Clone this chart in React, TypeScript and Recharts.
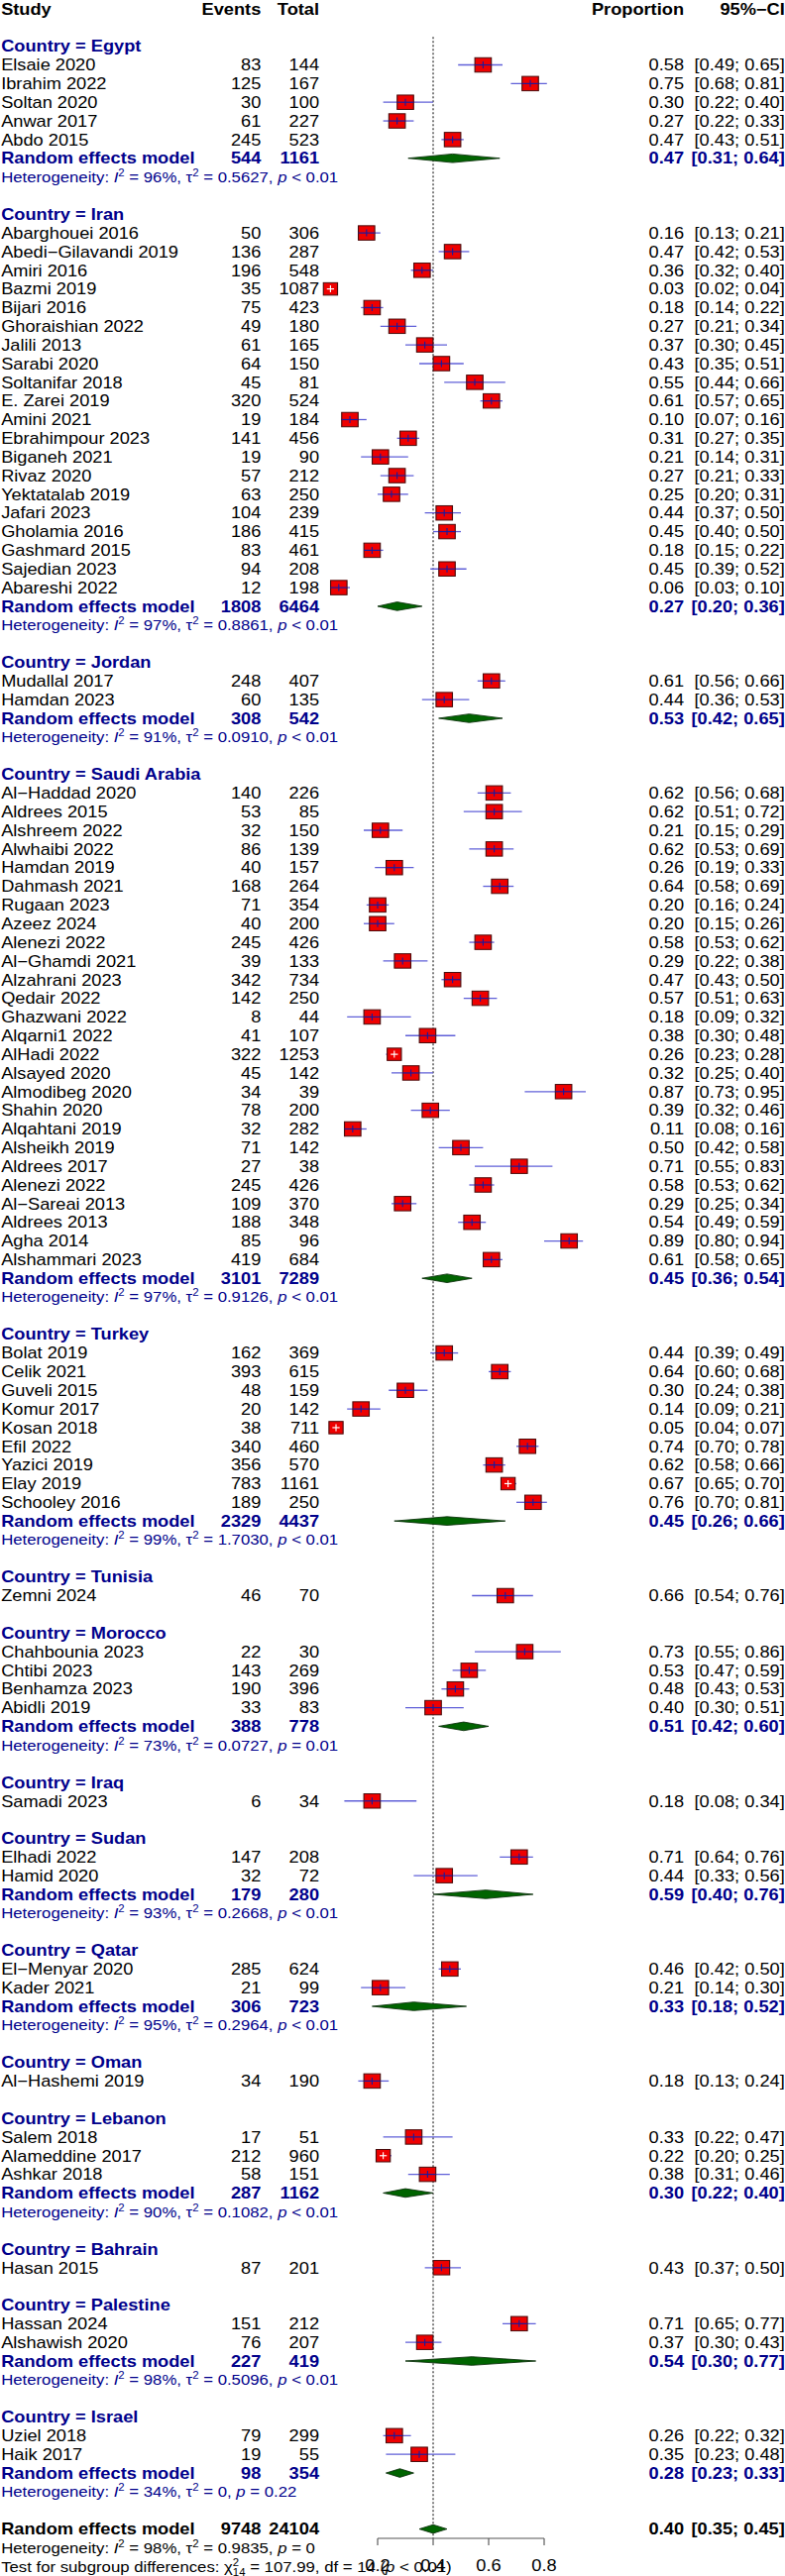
import React from 'react';
import { ScatterChart, Scatter, XAxis, YAxis, ErrorBar, ReferenceLine } from 'recharts';

// [study, events, total, proportion, lower, upper]
type Study = [string, number, number, number, number, number];

const egypt: Study[] = [
  ['Elsaie 2020', 83, 144, 0.58, 0.49, 0.65],
  ['Ibrahim 2022', 125, 167, 0.75, 0.68, 0.81],
  ['Soltan 2020', 30, 100, 0.3, 0.22, 0.4],
  ['Anwar 2017', 61, 227, 0.27, 0.22, 0.33],
  ['Abdo 2015', 245, 523, 0.47, 0.43, 0.51],
];
const iran: Study[] = [
  ['Abarghouei 2016', 50, 306, 0.16, 0.13, 0.21],
  ['Abedi\u2212Gilavandi 2019', 136, 287, 0.47, 0.42, 0.53],
  ['Amiri 2016', 196, 548, 0.36, 0.32, 0.4],
  ['Bazmi 2019', 35, 1087, 0.03, 0.02, 0.04],
  ['Bijari 2016', 75, 423, 0.18, 0.14, 0.22],
  ['Ghoraishian 2022', 49, 180, 0.27, 0.21, 0.34],
  ['Jalili 2013', 61, 165, 0.37, 0.3, 0.45],
  ['Sarabi 2020', 64, 150, 0.43, 0.35, 0.51],
  ['Soltanifar 2018', 45, 81, 0.55, 0.44, 0.66],
  ['E. Zarei 2019', 320, 524, 0.61, 0.57, 0.65],
  ['Amini 2021', 19, 184, 0.1, 0.07, 0.16],
  ['Ebrahimpour 2023', 141, 456, 0.31, 0.27, 0.35],
  ['Biganeh 2021', 19, 90, 0.21, 0.14, 0.31],
  ['Rivaz 2020', 57, 212, 0.27, 0.21, 0.33],
  ['Yektatalab 2019', 63, 250, 0.25, 0.2, 0.31],
  ['Jafari 2023', 104, 239, 0.44, 0.37, 0.5],
  ['Gholamia 2016', 186, 415, 0.45, 0.4, 0.5],
  ['Gashmard 2015', 83, 461, 0.18, 0.15, 0.22],
  ['Sajedian 2023', 94, 208, 0.45, 0.39, 0.52],
  ['Abareshi 2022', 12, 198, 0.06, 0.03, 0.1],
];
const jordan: Study[] = [
  ['Mudallal 2017', 248, 407, 0.61, 0.56, 0.66],
  ['Hamdan 2023', 60, 135, 0.44, 0.36, 0.53],
];
const saudi: Study[] = [
  ['Al\u2212Haddad 2020', 140, 226, 0.62, 0.56, 0.68],
  ['Aldrees 2015', 53, 85, 0.62, 0.51, 0.72],
  ['Alshreem 2022', 32, 150, 0.21, 0.15, 0.29],
  ['Alwhaibi 2022', 86, 139, 0.62, 0.53, 0.69],
  ['Hamdan 2019', 40, 157, 0.26, 0.19, 0.33],
  ['Dahmash 2021', 168, 264, 0.64, 0.58, 0.69],
  ['Rugaan 2023', 71, 354, 0.2, 0.16, 0.24],
  ['Azeez 2024', 40, 200, 0.2, 0.15, 0.26],
  ['Alenezi 2022', 245, 426, 0.58, 0.53, 0.62],
  ['Al\u2212Ghamdi 2021', 39, 133, 0.29, 0.22, 0.38],
  ['Alzahrani 2023', 342, 734, 0.47, 0.43, 0.5],
  ['Qedair 2022', 142, 250, 0.57, 0.51, 0.63],
  ['Ghazwani 2022', 8, 44, 0.18, 0.09, 0.32],
  ['Alqarni1 2022', 41, 107, 0.38, 0.3, 0.48],
  ['AlHadi 2022', 322, 1253, 0.26, 0.23, 0.28],
  ['Alsayed 2020', 45, 142, 0.32, 0.25, 0.4],
  ['Almodibeg 2020', 34, 39, 0.87, 0.73, 0.95],
  ['Shahin 2020', 78, 200, 0.39, 0.32, 0.46],
  ['Alqahtani 2019', 32, 282, 0.11, 0.08, 0.16],
  ['Alsheikh 2019', 71, 142, 0.5, 0.42, 0.58],
  ['Aldrees 2017', 27, 38, 0.71, 0.55, 0.83],
  ['Alenezi 2022', 245, 426, 0.58, 0.53, 0.62],
  ['Al\u2212Sareai 2013', 109, 370, 0.29, 0.25, 0.34],
  ['Aldrees 2013', 188, 348, 0.54, 0.49, 0.59],
  ['Agha 2014', 85, 96, 0.89, 0.8, 0.94],
  ['Alshammari 2023', 419, 684, 0.61, 0.58, 0.65],
];
const turkey: Study[] = [
  ['Bolat 2019', 162, 369, 0.44, 0.39, 0.49],
  ['Celik 2021', 393, 615, 0.64, 0.6, 0.68],
  ['Guveli 2015', 48, 159, 0.3, 0.24, 0.38],
  ['Komur 2017', 20, 142, 0.14, 0.09, 0.21],
  ['Kosan 2018', 38, 711, 0.05, 0.04, 0.07],
  ['Efil 2022', 340, 460, 0.74, 0.7, 0.78],
  ['Yazici 2019', 356, 570, 0.62, 0.58, 0.66],
  ['Elay 2019', 783, 1161, 0.67, 0.65, 0.7],
  ['Schooley 2016', 189, 250, 0.76, 0.7, 0.81],
];
const tunisia: Study[] = [['Zemni 2024', 46, 70, 0.66, 0.54, 0.76]];
const morocco: Study[] = [
  ['Chahbounia 2023', 22, 30, 0.73, 0.55, 0.86],
  ['Chtibi 2023', 143, 269, 0.53, 0.47, 0.59],
  ['Benhamza 2023', 190, 396, 0.48, 0.43, 0.53],
  ['Abidli 2019', 33, 83, 0.4, 0.3, 0.51],
];
const iraq: Study[] = [['Samadi 2023', 6, 34, 0.18, 0.08, 0.34]];
const sudan: Study[] = [
  ['Elhadi 2022', 147, 208, 0.71, 0.64, 0.76],
  ['Hamid 2020', 32, 72, 0.44, 0.33, 0.56],
];
const qatar: Study[] = [
  ['El\u2212Menyar 2020', 285, 624, 0.46, 0.42, 0.5],
  ['Kader 2021', 21, 99, 0.21, 0.14, 0.3],
];
const oman: Study[] = [['Al\u2212Hashemi 2019', 34, 190, 0.18, 0.13, 0.24]];
const lebanon: Study[] = [
  ['Salem 2018', 17, 51, 0.33, 0.22, 0.47],
  ['Alameddine 2017', 212, 960, 0.22, 0.2, 0.25],
  ['Ashkar 2018', 58, 151, 0.38, 0.31, 0.46],
];
const bahrain: Study[] = [['Hasan 2015', 87, 201, 0.43, 0.37, 0.5]];
const palestine: Study[] = [
  ['Hassan 2024', 151, 212, 0.71, 0.65, 0.77],
  ['Alshawish 2020', 76, 207, 0.37, 0.3, 0.43],
];
const israel: Study[] = [
  ['Uziel 2018', 79, 299, 0.26, 0.22, 0.32],
  ['Haik 2017', 19, 55, 0.35, 0.23, 0.48],
];

const countries = [
  'Egypt', 'Iran', 'Jordan', 'Saudi Arabia', 'Turkey', 'Tunisia', 'Morocco', 'Iraq',
  'Sudan', 'Qatar', 'Oman', 'Lebanon', 'Bahrain', 'Palestine', 'Israel',
];
const countryStudies = [
  egypt, iran, jordan, saudi, turkey, tunisia, morocco, iraq,
  sudan, qatar, oman, lebanon, bahrain, palestine, israel,
];

// random effects per subgroup: events, total, proportion, lower, upper
const pooled: ([number, number, number, number, number] | null)[] = [
  [544, 1161, 0.47, 0.31, 0.64],
  [1808, 6464, 0.27, 0.2, 0.36],
  [308, 542, 0.53, 0.42, 0.65],
  [3101, 7289, 0.45, 0.36, 0.54],
  [2329, 4437, 0.45, 0.26, 0.66],
  null,
  [388, 778, 0.51, 0.42, 0.6],
  null,
  [179, 280, 0.59, 0.4, 0.76],
  [306, 723, 0.33, 0.18, 0.52],
  null,
  [287, 1162, 0.3, 0.22, 0.4],
  null,
  [227, 419, 0.54, 0.3, 0.77],
  [98, 354, 0.28, 0.23, 0.33],
];

// I2, tau2, p
const heterogeneity: ([string, string, string] | null)[] = [
  ['96%', '0.5627', '< 0.01'],
  ['97%', '0.8861', '< 0.01'],
  ['91%', '0.0910', '< 0.01'],
  ['97%', '0.9126', '< 0.01'],
  ['99%', '1.7030', '< 0.01'],
  null,
  ['73%', '0.0727', '= 0.01'],
  null,
  ['93%', '0.2668', '< 0.01'],
  ['95%', '0.2964', '< 0.01'],
  null,
  ['90%', '0.1082', '< 0.01'],
  null,
  ['98%', '0.5096', '< 0.01'],
  ['34%', '0', '= 0.22'],
];

const overall: [number, number, number, number, number] = [9748, 24104, 0.4, 0.35, 0.45];
const overallHet: [string, string, string] = ['98%', '0.9835', '= 0'];
const subgroupTest = ['107.99', '14', '< 0.01'];
const xTicks = [0.2, 0.4, 0.6, 0.8];

const FONT = "'Liberation Sans', Arial, Helvetica, sans-serif";
const NAVY = '#00008B';
const STRETCH = 1.14;
const W = 695;
const H = 2600;

type Row = {
  r: number;
  kind: 'header' | 'title' | 'study' | 'pooled' | 'het' | 'overall' | 'overallHet' | 'test';
  label?: string;
  events?: number;
  total?: number;
  est?: number;
  lo?: number;
  hi?: number;
  het?: [string, string, string];
};

const rows: Row[] = [];
let line = 1;
rows.push({ r: line, kind: 'header' });
line += 2;
countries.forEach((c, i) => {
  rows.push({ r: line++, kind: 'title', label: `Country = ${c}` });
  countryStudies[i].forEach(([label, events, total, est, lo, hi]) => {
    rows.push({ r: line++, kind: 'study', label, events, total, est, lo, hi });
  });
  const p = pooled[i];
  const h = heterogeneity[i];
  if (p && h) {
    rows.push({ r: line++, kind: 'pooled', label: 'Random effects model', events: p[0], total: p[1], est: p[2], lo: p[3], hi: p[4] });
    rows.push({ r: line++, kind: 'het', het: h });
  }
  line++;
});
const overallRow = line;
rows.push({ r: line++, kind: 'overall', label: 'Random effects model', events: overall[0], total: overall[1], est: overall[2], lo: overall[3], hi: overall[4] });
rows.push({ r: line++, kind: 'overallHet', het: overallHet });
rows.push({ r: line++, kind: 'test' });

const rowByR = new Map(rows.map((row) => [row.r, row]));
const rowTicks = rows.map((row) => row.r);
const yBottom = overallRow + 0.5;

const studyPoints = rows
  .filter((row) => row.kind === 'study')
  .map((row) => ({
    x: row.est,
    y: row.r,
    err: [row.est! - row.lo!, row.hi! - row.est!],
    narrow: row.hi! - row.lo! <= 0.051,
  }));

const DIAMOND_HALF = 0.23;
const diamondPoints = rows
  .filter((row) => row.kind === 'pooled' || row.kind === 'overall')
  .flatMap((row) => [
    { x: row.lo, y: row.r },
    { x: row.est, y: row.r - DIAMOND_HALF },
    { x: row.hi, y: row.r },
    { x: row.est, y: row.r + DIAMOND_HALF },
  ]);

const fmt = (v: number) => v.toFixed(2);

const HetText = ({ y, het, color }: { y: number; het: [string, string, string]; color: string }) => (
  <text x={1} y={y} dy="0.36em" fontSize={14.7} fill={color} fontFamily={FONT} style={{ whiteSpace: 'pre' }}>
    <tspan>{'Heterogeneity: '}</tspan>
    <tspan fontStyle="italic">I</tspan>
    <tspan dy={-6} fontSize={10}>2</tspan>
    <tspan dy={6}>{` = ${het[0]}, \u03c4`}</tspan>
    <tspan dy={-6} fontSize={10}>2</tspan>
    <tspan dy={6}>{` = ${het[1]}, `}</tspan>
    <tspan fontStyle="italic">p</tspan>
    <tspan>{` ${het[2]}`}</tspan>
  </text>
);

const LeftTick = (props: any) => {
  const { y, payload } = props;
  const row = rowByR.get(payload.value);
  if (!row) return <g />;
  const base = { y, dy: '0.36em', fontFamily: FONT, fontSize: 16 };
  if (row.kind === 'header') {
    return (
      <g fontWeight="bold" fill="#000">
        <text {...base} x={1}>Study</text>
        <text {...base} x={231} textAnchor="end">Events</text>
        <text {...base} x={282.5} textAnchor="end">Total</text>
      </g>
    );
  }
  if (row.kind === 'title') {
    return <text {...base} x={1} fontWeight="bold" fill={NAVY}>{row.label}</text>;
  }
  if (row.kind === 'het') return <HetText y={y} het={row.het!} color={NAVY} />;
  if (row.kind === 'overallHet') return <HetText y={y} het={row.het!} color="#000" />;
  if (row.kind === 'test') {
    return (
      <text x={1} y={y} dy="0.36em" fontSize={14.7} fill="#000" fontFamily={FONT} style={{ whiteSpace: 'pre' }}>
        <tspan>{'Test for subgroup differences: \u03c7'}</tspan>
        <tspan dy={-6} fontSize={10}>2</tspan>
        <tspan dx={-5.6} dy={10} fontSize={10}>14</tspan>
        <tspan dy={-4}>{` = ${subgroupTest[0]}, df = ${subgroupTest[1]} (`}</tspan>
        <tspan fontStyle="italic">p</tspan>
        <tspan>{` ${subgroupTest[2]})`}</tspan>
      </text>
    );
  }
  const bold = row.kind !== 'study';
  const fill = row.kind === 'pooled' ? NAVY : '#000';
  return (
    <g fontWeight={bold ? 'bold' : 'normal'} fill={fill}>
      <text {...base} x={1}>{row.label}</text>
      <text {...base} x={231} textAnchor="end">{row.events}</text>
      <text {...base} x={282.5} textAnchor="end">{row.total}</text>
    </g>
  );
};

const RightTick = (props: any) => {
  const { y, payload } = props;
  const row = rowByR.get(payload.value);
  if (!row) return <g />;
  const base = { y, dy: '0.36em', fontFamily: FONT, fontSize: 16 };
  if (row.kind === 'header') {
    return (
      <g fontWeight="bold" fill="#000">
        <text {...base} x={605.3} textAnchor="end">Proportion</text>
        <text {...base} x={694.5} textAnchor="end">{'95%\u2212CI'}</text>
      </g>
    );
  }
  if (row.kind !== 'study' && row.kind !== 'pooled' && row.kind !== 'overall') return <g />;
  const bold = row.kind !== 'study';
  const fill = row.kind === 'pooled' ? NAVY : '#000';
  return (
    <g fontWeight={bold ? 'bold' : 'normal'} fill={fill}>
      <text {...base} x={605.3} textAnchor="end">{fmt(row.est!)}</text>
      <text {...base} x={694.5} textAnchor="end">{`[${fmt(row.lo!)}; ${fmt(row.hi!)}]`}</text>
    </g>
  );
};

const StudySquare = (props: any) => {
  const { cx, cy, payload } = props;
  const s = payload.narrow ? 12.5 : 14.5;
  const mark = payload.narrow ? '#ffffff' : '#1a1a9e';
  const arm = payload.narrow ? 3.2 : s / 2;
  return (
    <g>
      <rect x={cx - s / 2} y={cy - s / 2} width={s} height={s} fill="#ee0000" stroke="#4a0c0c" strokeWidth={1} />
      <line x1={cx - arm} x2={cx + arm} y1={cy} y2={cy} stroke={mark} strokeWidth={1.2} />
      <line x1={cx} x2={cx} y1={cy - 3.5} y2={cy + 3.5} stroke={mark} strokeWidth={1} />
    </g>
  );
};

const diamondLine = (props: any) => {
  const pts = props.points || [];
  const polys = [];
  for (let i = 0; i + 3 < pts.length; i += 4) {
    const d = pts.slice(i, i + 4).map((p: any) => `${p.x},${p.y}`).join(' ');
    polys.push(<polygon key={i} points={d} fill="#006400" stroke="#0b2e0b" strokeWidth={0.8} />);
  }
  return <g>{polys}</g>;
};

const App = () => (
  <div style={{ width: 792, height: H, overflow: 'hidden', background: '#fff' }}>
    <style>{'body{margin:0}'}</style>
    <div style={{ width: W, height: H, transform: `scale(${STRETCH}, 1)`, transformOrigin: '0 0' }}>
      <ScatterChart width={W} height={H} margin={{ top: 9, right: 0, bottom: 0, left: 0 }}>
        <XAxis
          type="number"
          dataKey="x"
          domain={[0, 1]}
          allowDataOverflow
          ticks={xTicks}
          interval={0}
          axisLine={false}
          tickLine={{ stroke: '#555' }}
          tickSize={7}
          tickMargin={15}
          height={38}
          tick={{ fontSize: 16, fill: '#000', fontFamily: FONT }}
          tickFormatter={(v: number) => v.toFixed(1)}
        />
        <YAxis
          yAxisId="left"
          type="number"
          dataKey="y"
          domain={[1, yBottom]}
          reversed
          allowDataOverflow
          ticks={rowTicks}
          interval={0}
          width={285.1}
          axisLine={false}
          tickLine={false}
          tick={LeftTick}
        />
        <YAxis
          yAxisId="right"
          orientation="right"
          type="number"
          dataKey="y"
          domain={[1, yBottom]}
          reversed
          allowDataOverflow
          ticks={rowTicks}
          interval={0}
          width={164.3}
          axisLine={false}
          tickLine={false}
          tick={RightTick}
        />
        <ReferenceLine
          yAxisId="left"
          segment={[{ x: overall[2], y: 2.5 }, { x: overall[2], y: yBottom }]}
          stroke="#222"
          strokeDasharray="2 2"
        />
        <ReferenceLine
          yAxisId="left"
          segment={[{ x: xTicks[0], y: yBottom }, { x: xTicks[xTicks.length - 1], y: yBottom }]}
          stroke="#555"
        />
        <Scatter yAxisId="left" data={studyPoints} shape={() => <g />} isAnimationActive={false}>
          <ErrorBar dataKey="err" direction="x" width={0} stroke="#6060d8" strokeWidth={1.3} />
        </Scatter>
        <Scatter yAxisId="left" data={studyPoints} shape={StudySquare} isAnimationActive={false} />
        <Scatter
          yAxisId="left"
          data={diamondPoints}
          shape={() => <g />}
          line={diamondLine}
          lineType="joint"
          isAnimationActive={false}
        />
      </ScatterChart>
    </div>
  </div>
);

export default App;
